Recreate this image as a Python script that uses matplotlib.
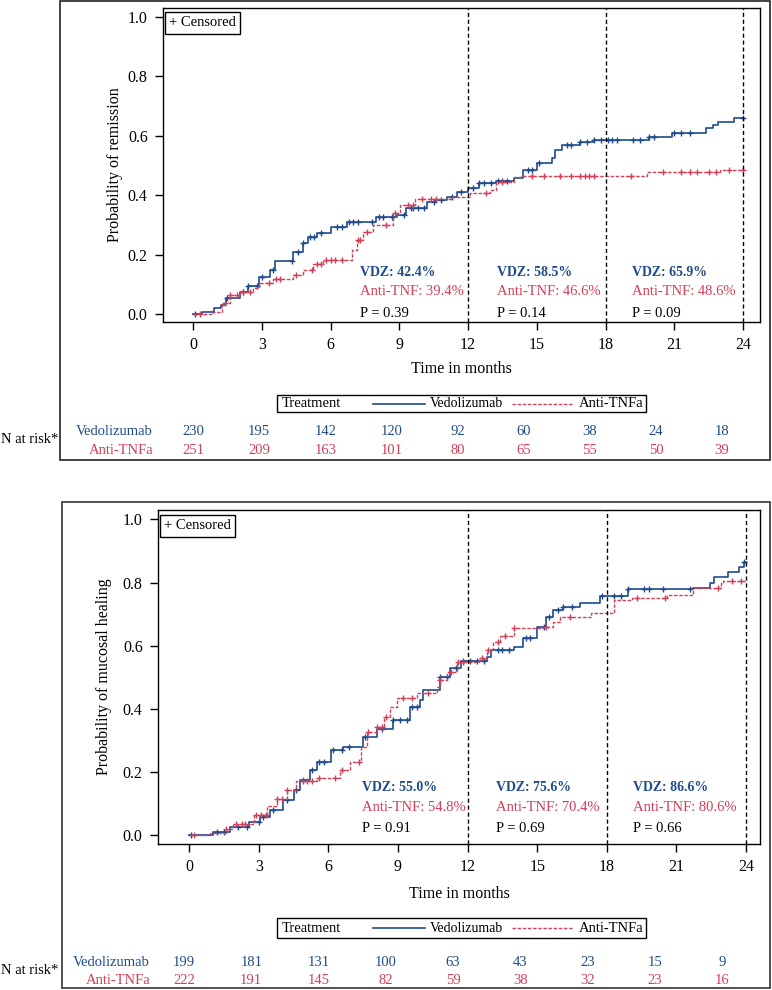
import matplotlib.pyplot as plt
import numpy as np
from matplotlib.patches import Rectangle
from matplotlib.lines import Line2D
from matplotlib.transforms import blended_transform_factory

plt.rcParams['font.family'] = ['Liberation Serif', 'DejaVu Serif']

# colours
blue = '#1f4b8a'
red = '#d23f57'

# figure size in pixels
W = 772
H = 990

# risk table
risk_times = [0, 3, 6, 9, 12, 15, 18, 21, 24]
rem_vdz_risk = [230, 195, 142, 120, 92, 60, 38, 24, 18]
rem_tnf_risk = [251, 209, 163, 101, 80, 65, 55, 50, 39]
heal_vdz_risk = [199, 181, 131, 100, 63, 43, 23, 15, 9]
heal_tnf_risk = [222, 191, 145, 82, 59, 38, 32, 23, 16]

# remission, vedolizumab
rem_vdz_t = [0, 0.4, 0.9, 1.2, 1.45, 2.05, 2.4, 2.9, 3.36, 3.58, 4.37, 4.8, 5.0, 5.4,
             6.0, 6.7, 8.0, 8.9, 9.3, 10.2, 10.6, 11.07, 11.5, 12.0, 12.5, 13.2, 14.0,
             14.4, 15.0, 15.65, 15.8, 16.1, 16.9, 17.5, 19.9, 20.9, 22.4, 22.7, 22.9,
             23.6, 24]
rem_vdz_p = [0, 0.007, 0.02, 0.03, 0.054, 0.074, 0.095, 0.125, 0.148, 0.18, 0.21, 0.24,
             0.26, 0.272, 0.293, 0.31, 0.327, 0.333, 0.357, 0.377, 0.385, 0.395, 0.41,
             0.424, 0.44, 0.448, 0.457, 0.485, 0.508, 0.525, 0.552, 0.568, 0.58, 0.585,
             0.595, 0.61, 0.625, 0.637, 0.647, 0.659, 0.659]
rem_vdz_cens = [0.1, 1.5, 2.2, 2.4, 2.8, 3.0, 3.5, 4.3, 4.6, 4.8, 5.1, 5.3, 5.6, 6.3,
                6.5, 6.8, 7.0, 7.2, 7.8, 8.1, 8.3, 8.7, 9.2, 9.5, 9.6, 9.8, 10.1, 10.5,
                10.8, 11.3, 11.7, 12.2, 12.5, 12.7, 13.0, 13.3, 13.5, 13.7, 14.6, 14.8,
                15.1, 16.3, 16.5, 16.9, 17.2, 17.5, 17.8, 18.1, 18.3, 18.5, 19.2, 19.5,
                19.9, 20.1, 21.0, 21.3, 21.7, 24.0]

# remission, anti-TNF
rem_tnf_t = [0, 0.87, 1.26, 1.6, 2.05, 2.6, 2.9, 3.5, 4.37, 4.8, 5.24, 5.67, 6.94, 7.16,
             7.42, 7.85, 8.73, 9.03, 9.7, 11.3, 12.1, 12.96, 13.2, 14.0, 14.3, 19.8,
             23.0, 24]
rem_tnf_p = [0, 0.008, 0.037, 0.064, 0.074, 0.087, 0.104, 0.118, 0.131, 0.148, 0.168,
             0.182, 0.215, 0.249, 0.276, 0.30, 0.34, 0.367, 0.387, 0.394, 0.407, 0.418,
             0.445, 0.46, 0.466, 0.477, 0.486, 0.486]
rem_tnf_cens = [0.3, 1.4, 1.6, 1.9, 2.2, 2.5, 3.3, 3.6, 3.8, 4.5, 5.2, 5.4, 5.6, 5.8,
                6.0, 6.2, 6.5, 7.2, 7.3, 7.6, 8.4, 8.8, 9.4, 9.6, 10.0, 10.4, 10.6,
                12.8, 13.5, 14.8, 15.3, 16.0, 16.5, 16.9, 17.1, 17.3, 17.5, 19.1, 20.5,
                21.3, 21.7, 22.0, 22.5, 22.8, 23.4, 24.0]

# mucosal healing, vedolizumab
heal_vdz_t = [0, 1.03, 1.77, 2.6, 3.06, 3.5, 4.05, 4.5, 4.8, 5.2, 5.5, 6.1, 6.63, 7.5,
              8.1, 8.8, 9.5, 9.96, 10.1, 10.8, 11.25, 11.7, 12.85, 13.0, 14.0, 14.4,
              15.0, 15.4, 15.7, 16.1, 16.85, 17.7, 18.9, 21.7, 22.45, 22.6, 23.2, 23.7,
              23.9, 24]
heal_vdz_p = [0, 0.01, 0.025, 0.04, 0.057, 0.08, 0.11, 0.143, 0.175, 0.206, 0.232, 0.27,
              0.28, 0.31, 0.335, 0.365, 0.406, 0.428, 0.46, 0.50, 0.53, 0.55, 0.565,
              0.587, 0.597, 0.625, 0.66, 0.69, 0.714, 0.724, 0.735, 0.756, 0.778, 0.784,
              0.80, 0.816, 0.832, 0.848, 0.866, 0.866]
heal_vdz_cens = [0.1, 1.2, 1.5, 2.1, 2.5, 3.0, 3.2, 3.6, 4.2, 4.6, 4.9, 5.3, 5.6, 5.8,
                 6.2, 6.6, 6.9, 7.6, 8.3, 8.8, 9.1, 9.4, 9.6, 9.8, 10.8, 11.1, 11.5,
                 11.8, 12.1, 12.4, 12.7, 13.3, 13.5, 13.8, 14.5, 14.7, 15.3, 15.5, 15.9,
                 16.1, 16.5, 17.8, 18.3, 18.6, 18.9, 19.6, 19.8, 20.4, 21.6, 23.9]

# mucosal healing, anti-TNF
heal_tnf_t = [0, 0.9, 1.6, 1.9, 2.78, 3.35, 3.8, 4.2, 4.6, 5.5, 6.5, 6.94, 7.4, 7.66,
              8.1, 8.4, 8.66, 8.96, 9.8, 10.7, 10.8, 11.1, 11.55, 12.5, 12.85, 13.1,
              13.4, 14.0, 15.26, 15.7, 16.0, 17.3, 18.3, 19.1, 20.6, 21.7, 22.9, 23.0, 24]
heal_tnf_p = [0, 0.005, 0.02, 0.035, 0.063, 0.09, 0.113, 0.143, 0.17, 0.18, 0.206,
              0.232, 0.28, 0.327, 0.343, 0.375, 0.406, 0.435, 0.45, 0.47, 0.49, 0.517,
              0.548, 0.562, 0.587, 0.613, 0.63, 0.657, 0.66, 0.676, 0.69, 0.704, 0.746,
              0.752, 0.762, 0.784, 0.80, 0.806, 0.806]
heal_tnf_cens = [0.2, 1.6, 2.0, 2.3, 2.4, 2.9, 3.1, 3.3, 3.8, 4.0, 4.2, 4.9, 5.1, 5.3,
                 5.6, 6.3, 6.6, 7.3, 7.7, 8.1, 8.3, 8.5, 9.2, 9.6, 10.3, 10.8, 11.3,
                 11.6, 11.8, 12.6, 12.9, 13.3, 13.6, 14.0, 15.4, 16.4, 19.3, 20.5, 22.8,
                 23.4, 23.8]

# landmark estimates
cut_times = [12, 18, 24]
rem_vdz_lbl = ['VDZ: 42.4%', 'VDZ: 58.5%', 'VDZ: 65.9%']
rem_tnf_lbl = ['Anti-TNF: 39.4%', 'Anti-TNF: 46.6%', 'Anti-TNF: 48.6%']
rem_p_lbl = ['P = 0.39', 'P = 0.14', 'P = 0.09']
heal_vdz_lbl = ['VDZ: 55.0%', 'VDZ: 75.6%', 'VDZ: 86.6%']
heal_tnf_lbl = ['Anti-TNF: 54.8%', 'Anti-TNF: 70.4%', 'Anti-TNF: 80.6%']
heal_p_lbl = ['P = 0.91', 'P = 0.69', 'P = 0.66']


def fx(x):
    return x / W


def fy(y):
    return 1 - y / H


def step_value(t, p, c):
    t = np.asarray(t)
    p = np.asarray(p)
    idx = np.searchsorted(t, c, side='right') - 1
    return p[np.clip(idx, 0, len(p) - 1)]


def draw_curve(ax, t, p, cens, color, ls, lw):
    ax.step(t, p, where='post', color=color, ls=ls, lw=lw)
    ax.plot(cens, step_value(t, p, cens), ls='none', marker='+', ms=4.5,
            mew=1.0, color=color)


def draw_panel(ax, vdz, tnf, ylabel, vdz_lbl, tnf_lbl, p_lbl, text_x, text_y, ylab_x):
    draw_curve(ax, vdz[0], vdz[1], vdz[2], blue, '-', 1.2)
    draw_curve(ax, tnf[0], tnf[1], tnf[2], red, (0, (2.5, 1.2)), 1.0)
    for c in cut_times:
        ax.axvline(c, color='black', ls=(0, (3, 2)), lw=1.0)
    for i in range(3):
        ax.text(text_x[i], text_y[0], vdz_lbl[i], color=blue, fontsize=10,
                fontweight='bold', va='center')
        ax.text(text_x[i], text_y[1], tnf_lbl[i], color=red, fontsize=10.5, va='center')
        ax.text(text_x[i], text_y[2], p_lbl[i], color='black', fontsize=10.5, va='center')

    ax.set_xticks(risk_times)
    ax.set_yticks(np.arange(0, 1.01, 0.2))
    ax.set_yticklabels(['%.1f' % v for v in np.arange(0, 1.01, 0.2)])
    ax.tick_params(labelsize=11.5, length=6, width=1, pad=5)
    ax.set_xlabel('Time in months', fontsize=11.5)
    ax.xaxis.label.set_va('center')
    ax.xaxis.set_label_coords(0.5, -0.15)
    ax.set_ylabel(ylabel, fontsize=11.5)
    ax.yaxis.label.set_va('center')
    ax.yaxis.set_label_coords(ylab_x, 0.5)
    for s in ax.spines.values():
        s.set_linewidth(1.0)

    ax.text(0.01, 0.953, '+ Censored', transform=ax.transAxes, fontsize=10.5,
            va='center', ha='left',
            bbox=dict(boxstyle='square,pad=0.3', fc='white', ec='black', lw=1))


def draw_key(fig, top, bottom):
    fig.add_artist(Rectangle((fx(277), fy(bottom)), fx(646 - 277), (bottom - top) / H,
                             transform=fig.transFigure, fill=False, ec='black', lw=1))
    yc = fy((top + bottom) / 2)
    fig.text(fx(282), yc, 'Treatment', fontsize=10.5, va='center')
    fig.add_artist(Line2D([fx(373), fx(425)], [yc, yc], color=blue, lw=1.2,
                          transform=fig.transFigure))
    fig.text(fx(430), yc, 'Vedolizumab', fontsize=10, va='center')
    fig.add_artist(Line2D([fx(512), fx(572)], [yc, yc], color=red, lw=1.0,
                          ls=(0, (2.5, 1.2)), transform=fig.transFigure))
    fig.text(fx(579), yc, 'Anti-TNFa', fontsize=10.5, va='center')


def draw_risk(fig, left, right, rows_y, label_x, label_y, vdz_n, tnf_n):
    rax = fig.add_axes([fx(left), 0.0, fx(right - left), 0.01])
    rax.set_xlim(0, 24)
    rax.axis('off')
    tr = blended_transform_factory(rax.transData, fig.transFigure)
    for i, t in enumerate(risk_times):
        rax.text(t, fy(rows_y[0]), str(vdz_n[i]), transform=tr, color=blue,
                 fontsize=10.5, ha='center', va='center')
        rax.text(t, fy(rows_y[1]), str(tnf_n[i]), transform=tr, color=red,
                 fontsize=10.5, ha='center', va='center')
    fig.text(fx(label_x), fy(rows_y[0]), 'Vedolizumab', color=blue, fontsize=10.5,
             ha='right', va='center')
    fig.text(fx(label_x), fy(rows_y[1]), 'Anti-TNFa', color=red, fontsize=10.5,
             ha='right', va='center')
    fig.text(0.001, fy(label_y), 'N at risk*', fontsize=10.5, ha='left', va='center')


def main():
    fig = plt.figure(figsize=(W / 100, H / 100), dpi=100)

    # outer frames
    fig.add_artist(Rectangle((fx(60), fy(460)), fx(770 - 60), (460 - 1) / H,
                             transform=fig.transFigure, fill=False, ec='#222222', lw=1.2))
    fig.add_artist(Rectangle((fx(62), fy(988)), fx(770 - 62), (988 - 502) / H,
                             transform=fig.transFigure, fill=False, ec='#333333', lw=1.2))

    # remission panel
    ax1 = fig.add_axes([fx(163), fy(322), fx(760 - 163), (322 - 8) / H])
    ax1.set_xlim(-1.31, 24.74)
    ax1.set_ylim(-0.027, 1.03)
    draw_panel(ax1, (rem_vdz_t, rem_vdz_p, rem_vdz_cens),
               (rem_tnf_t, rem_tnf_p, rem_tnf_cens), 'Probability of remission',
               rem_vdz_lbl, rem_tnf_lbl, rem_p_lbl, [7.29, 13.26, 19.15],
               [0.138, 0.074, 0.003], -0.08)
    draw_key(fig, 395, 412)
    draw_risk(fig, 193, 722, [432, 451], 153, 439, rem_vdz_risk, rem_tnf_risk)

    # mucosal healing panel
    ax2 = fig.add_axes([fx(158), fy(844), fx(760 - 158), (844 - 510) / H])
    ax2.set_xlim(-1.34, 24.6)
    ax2.set_ylim(-0.029, 1.03)
    draw_panel(ax2, (heal_vdz_t, heal_vdz_p, heal_vdz_cens),
               (heal_tnf_t, heal_tnf_p, heal_tnf_cens), 'Probability of mucosal healing',
               heal_vdz_lbl, heal_tnf_lbl, heal_p_lbl, [7.46, 13.23, 19.14],
               [0.149, 0.086, 0.019], -0.09)
    draw_key(fig, 918, 938)
    draw_risk(fig, 184, 722, [962, 981], 150, 970, heal_vdz_risk, heal_tnf_risk)

    fig.savefig('out.png', dpi=100)


if __name__ == "__main__":
    main()
